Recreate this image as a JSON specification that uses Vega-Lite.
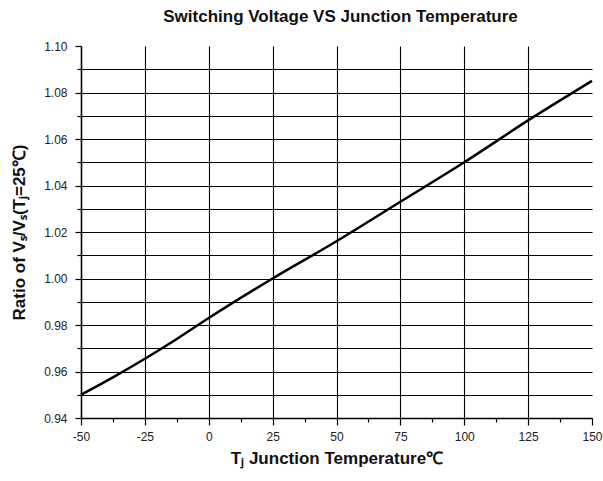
{
  "$schema": "https://vega.github.io/schema/vega-lite/v6.json",
  "width": 511,
  "height": 372,
  "autosize": {"type": "none"},
  "padding": {"left": 81, "top": 46, "right": 11, "bottom": 63},
  "background": "white",
  "title": {
    "text": "Switching Voltage VS Junction Temperature",
    "font": "Liberation Sans",
    "fontSize": 17,
    "fontWeight": "bold",
    "color": "#111",
    "anchor": "middle",
    "offset": 14,
    "dx": 4
  },
  "config": {
    "view": {"stroke": null},
    "axis": {
      "labelFont": "Liberation Sans",
      "labelFontSize": 12,
      "labelColor": "#222",
      "titleFont": "Liberation Sans",
      "titleFontSize": 17,
      "titleFontWeight": "bold",
      "titleColor": "#111",
      "domainColor": "black",
      "domainWidth": 1.5,
      "tickColor": "black",
      "tickWidth": 1.2,
      "gridWidth": 1.1
    }
  },
  "data": {
    "values": [
      {"t": -50, "r": 0.950},
      {"t": -37.5, "r": 0.9575},
      {"t": -25, "r": 0.9655},
      {"t": -12.5, "r": 0.974},
      {"t": 0, "r": 0.983},
      {"t": 25, "r": 1.000},
      {"t": 50, "r": 1.016},
      {"t": 75, "r": 1.033},
      {"t": 100, "r": 1.050},
      {"t": 125, "r": 1.068},
      {"t": 150, "r": 1.085}
    ]
  },
  "mark": {"type": "line", "color": "black", "strokeWidth": 2.5, "interpolate": "monotone"},
  "encoding": {
    "x": {
      "field": "t",
      "type": "quantitative",
      "scale": {"domain": [-50, 150], "nice": false, "zero": false},
      "axis": {
        "title": "Tⱼ Junction Temperature℃",
        "titlePadding": 8,
        "values": [-50, -37.5, -25, -12.5, 0, 12.5, 25, 37.5, 50, 62.5, 75, 87.5, 100, 112.5, 125, 137.5, 150],
        "labelExpr": "datum.value % 25 === 0 ? '' + datum.value : ''",
        "labelPadding": 6,
        "labelFlush": false,
        "labelOverlap": false,
        "tickSize": {"condition": {"test": "datum.value % 25 !== 0", "value": 4}, "value": 7},
        "grid": true,
        "gridColor": {"condition": {"test": "datum.value % 25 !== 0 || datum.value > 140", "value": "transparent"}, "value": "black"}
      }
    },
    "y": {
      "field": "r",
      "type": "quantitative",
      "scale": {"domain": [0.94, 1.10], "nice": false, "zero": false},
      "axis": {
        "title": "Ratio of Vₛ/Vₛ(Tⱼ=25℃)",
        "titlePadding": 15,
        "values": [0.94, 0.95, 0.96, 0.97, 0.98, 0.99, 1.00, 1.01, 1.02, 1.03, 1.04, 1.05, 1.06, 1.07, 1.08, 1.09, 1.10],
        "labelExpr": "round(datum.value * 100) % 2 === 0 ? format(datum.value, '.2f') : ''",
        "labelPadding": 8,
        "labelFlush": false,
        "labelOverlap": false,
        "tickSize": {"condition": {"test": "round(datum.value * 100) % 2 !== 0", "value": 4}, "value": 6},
        "grid": true,
        "gridColor": {"condition": {"test": "datum.value > 1.095", "value": "transparent"}, "value": "black"}
      }
    }
  }
}
